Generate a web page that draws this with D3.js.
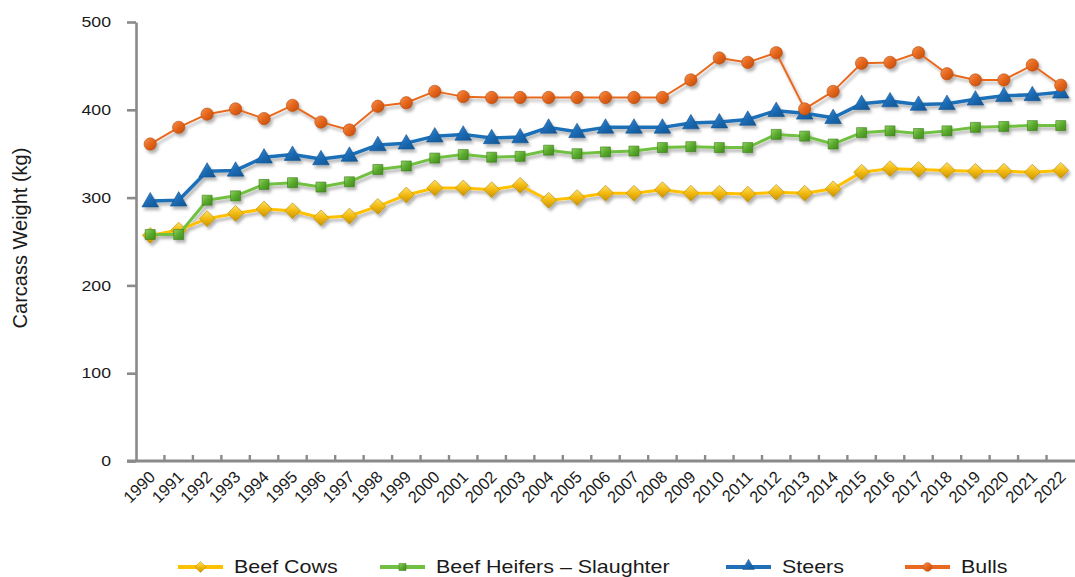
<!DOCTYPE html>
<html>
<head>
<meta charset="utf-8">
<script src="https://cdn.jsdelivr.net/npm/d3@7"></script>
<style>
  body { margin: 0; background: #fff; }
  svg { display: block; font-family: "Liberation Sans", Arial, Helvetica, sans-serif; }
</style>
</head>
<body>
<svg id="chart" width="1075" height="577"></svg>
<script>
// data (kg)
const years = d3.range(1990, 2023).map(String);
const beefCows = [257, 263, 276, 282, 287, 285, 277, 279, 290, 303, 311, 311, 309, 314, 297, 300,
  305, 305, 309, 305, 305, 304, 306, 305, 310, 329, 333, 332, 331, 330, 330, 329, 331];
const beefHeifers = [258, 258, 297, 302, 315, 317, 312, 318, 332, 336, 345, 349, 346, 347, 354, 350,
  352, 353, 357, 358, 357, 357, 372, 370, 361, 374, 376, 373, 376, 380, 381, 382, 382];
const steers = [296, 297, 330, 331, 346, 349, 344, 348, 360, 362, 370, 372, 368, 369, 380, 375,
  380, 380, 380, 385, 386, 389, 399, 396, 391, 407, 410, 406, 407, 412, 416, 417, 420];
const bulls = [361, 380, 395, 401, 390, 405, 386, 377, 404, 408, 421, 415, 414, 414, 414, 414,
  414, 414, 414, 434, 459, 454, 465, 401, 421, 453, 454, 465, 441, 434, 434, 451, 428];
const seriesNames = ["Beef Cows", "Beef Heifers \u2013 Slaughter", "Steers", "Bulls"];
const yTicks = [0, 100, 200, 300, 400, 500];

let svg = d3.select("#chart");
let width = 1075, height = 577;

let margin = { top: 22, right: 0, bottom: 116, left: 136 };
let axisColor = "#8a8a8a";

let series = [
  { name: seriesNames[0], values: beefCows, line: "#FFC000", fill: "#F2BA10", light: "#FFE066", dark: "#C99200", edge: "#B58A0A", lw: 3, symbol: "diamond" },
  { name: seriesNames[1], values: beefHeifers, line: "#72C043", fill: "#5BAA2E", light: "#8ED45E", dark: "#3F8A1C", edge: "#3A7A1B", lw: 3, symbol: "square" },
  { name: seriesNames[2], values: steers, line: "#1F70B8", fill: "#1B6BB5", light: "#4A93D6", dark: "#13548F", edge: "#13528C", lw: 3.5, symbol: "triangle" },
  { name: seriesNames[3], values: bulls, line: "#E8691F", fill: "#E5651B", light: "#F59350", dark: "#B94C0E", edge: "#B44A0E", lw: 2, symbol: "circle" }
];

// scales
let x = d3.scaleBand().domain(years).range([margin.left, width - margin.right]);
let y = d3.scaleLinear().domain([0, 500]).range([height - margin.bottom, margin.top]);
let cx = (d) => x(d) + x.bandwidth() / 2;

// defs: shadow + marker gradients
let defs = svg.append("defs");
let shadow = defs.append("filter").attr("id", "shadow")
  .attr("x", "-20%").attr("y", "-20%").attr("width", "140%").attr("height", "160%");
shadow.append("feDropShadow")
  .attr("dx", 2).attr("dy", 3).attr("stdDeviation", 1.6)
  .attr("flood-color", "#000").attr("flood-opacity", 0.3);

series.forEach((s, i) => {
  let g = defs.append("linearGradient").attr("id", "grad" + i)
    .attr("x1", "0%").attr("y1", "0%").attr("x2", "100%").attr("y2", "100%");
  g.append("stop").attr("offset", "0%").attr("stop-color", s.light);
  g.append("stop").attr("offset", "50%").attr("stop-color", s.fill);
  g.append("stop").attr("offset", "100%").attr("stop-color", s.dark);
});

function symbolPath(kind, scale) {
  if (kind === "diamond") return d3.symbol(d3.symbolSquare, 125 * scale)();
  if (kind === "square") return d3.symbol(d3.symbolSquare, 100 * scale)();
  if (kind === "triangle") return d3.symbol(d3.symbolTriangle, 120 * scale)();
  return d3.symbol(d3.symbolCircle, 120 * scale)();
}
function symbolRotate(kind) { return kind === "diamond" ? " rotate(45)" : ""; }

// Y axis
let yAxis = d3.axisLeft(y).tickValues(yTicks).tickSize(9).tickSizeOuter(0).tickPadding(16);
let yGroup = svg.append("g").attr("transform", "translate(" + margin.left + ",0)").call(yAxis);
yGroup.select(".domain").attr("stroke", axisColor).attr("stroke-width", 2.6);
yGroup.selectAll(".tick line").attr("stroke", axisColor).attr("stroke-width", 2.6);
yGroup.selectAll(".tick text")
  .attr("fill", "#1a1a1a")
  .style("font-size", "14.5px")
  .attr("transform", function () {
    return "translate(" + d3.select(this).attr("x") + ",0) scale(1.22,1) translate(" + (-d3.select(this).attr("x")) + ",0)";
  });

// X axis (ticks at category boundaries, pointing up)
let xGroup = svg.append("g").attr("id", "x-axis");
xGroup.append("line")
  .attr("x1", margin.left - 9).attr("x2", width)
  .attr("y1", y(0)).attr("y2", y(0))
  .attr("stroke", axisColor).attr("stroke-width", 2.8);
xGroup.selectAll("line.tick")
  .data(years.slice(1))
  .join("line").attr("class", "tick")
  .attr("x1", (d) => x(d)).attr("x2", (d) => x(d))
  .attr("y1", y(0)).attr("y2", y(0) - 6)
  .attr("stroke", axisColor).attr("stroke-width", 2.4);
xGroup.selectAll("text")
  .data(years)
  .join("text")
  .text((d) => d)
  .attr("text-anchor", "end")
  .attr("transform", (d) => "translate(" + (cx(d) + 6) + "," + (y(0) + 17) + ") rotate(-45)")
  .style("font-size", "16.5px")
  .attr("fill", "#1a1a1a");

// Axis title
svg.append("text")
  .text("Carcass Weight (kg)")
  .attr("text-anchor", "middle")
  .attr("transform", "translate(27," + 238 + ") rotate(-90)")
  .style("font-size", "20px")
  .attr("fill", "#1a1a1a");

// series lines + markers
let plot = svg.append("g").attr("id", "plot").attr("filter", "url(#shadow)");
series.forEach((s, i) => {
  let pts = years.map((yr, j) => ({ x: yr, y: s.values[j] }));
  let lineFunction = d3.line().x((d) => cx(d.x)).y((d) => y(d.y));
  let g = plot.append("g");
  g.append("path")
    .attr("d", lineFunction(pts))
    .attr("fill", "none")
    .attr("stroke", s.line)
    .attr("stroke-width", s.lw)
    .attr("stroke-linejoin", "round");
  g.selectAll("path.mark")
    .data(pts)
    .join("path").attr("class", "mark")
    .attr("d", symbolPath(s.symbol, 1))
    .attr("transform", (d) => "translate(" + cx(d.x) + "," + (y(d.y) + (s.symbol === "triangle" ? 1 : 0)) + ")" + symbolRotate(s.symbol))
    .attr("fill", "url(#grad" + i + ")")
    .attr("stroke", s.edge)
    .attr("stroke-width", 0.6);
});

// Legend
let legendX = [178, 380, 726, 905];
let legendY = 567;
let legend = svg.append("g").attr("id", "legend");
series.forEach((s, i) => {
  let item = legend.append("g").attr("transform", "translate(" + legendX[i] + "," + legendY + ")");
  item.append("line")
    .attr("x1", 0).attr("x2", 45).attr("y1", 0).attr("y2", 0)
    .attr("stroke", s.line).attr("stroke-width", 4);
  item.append("path")
    .attr("d", symbolPath(s.symbol, 0.5))
    .attr("transform", "translate(22.5," + (s.symbol === "triangle" ? -1 : 0) + ")" + symbolRotate(s.symbol))
    .attr("fill", "url(#grad" + i + ")")
    .attr("stroke", s.edge).attr("stroke-width", 0.5);
  item.append("text")
    .text(s.name)
    .attr("transform", "translate(56,5.5) scale(1.16,1)")
    .style("font-size", "18.5px")
    .attr("fill", "#1a1a1a");
});
</script>
</body>
</html>
